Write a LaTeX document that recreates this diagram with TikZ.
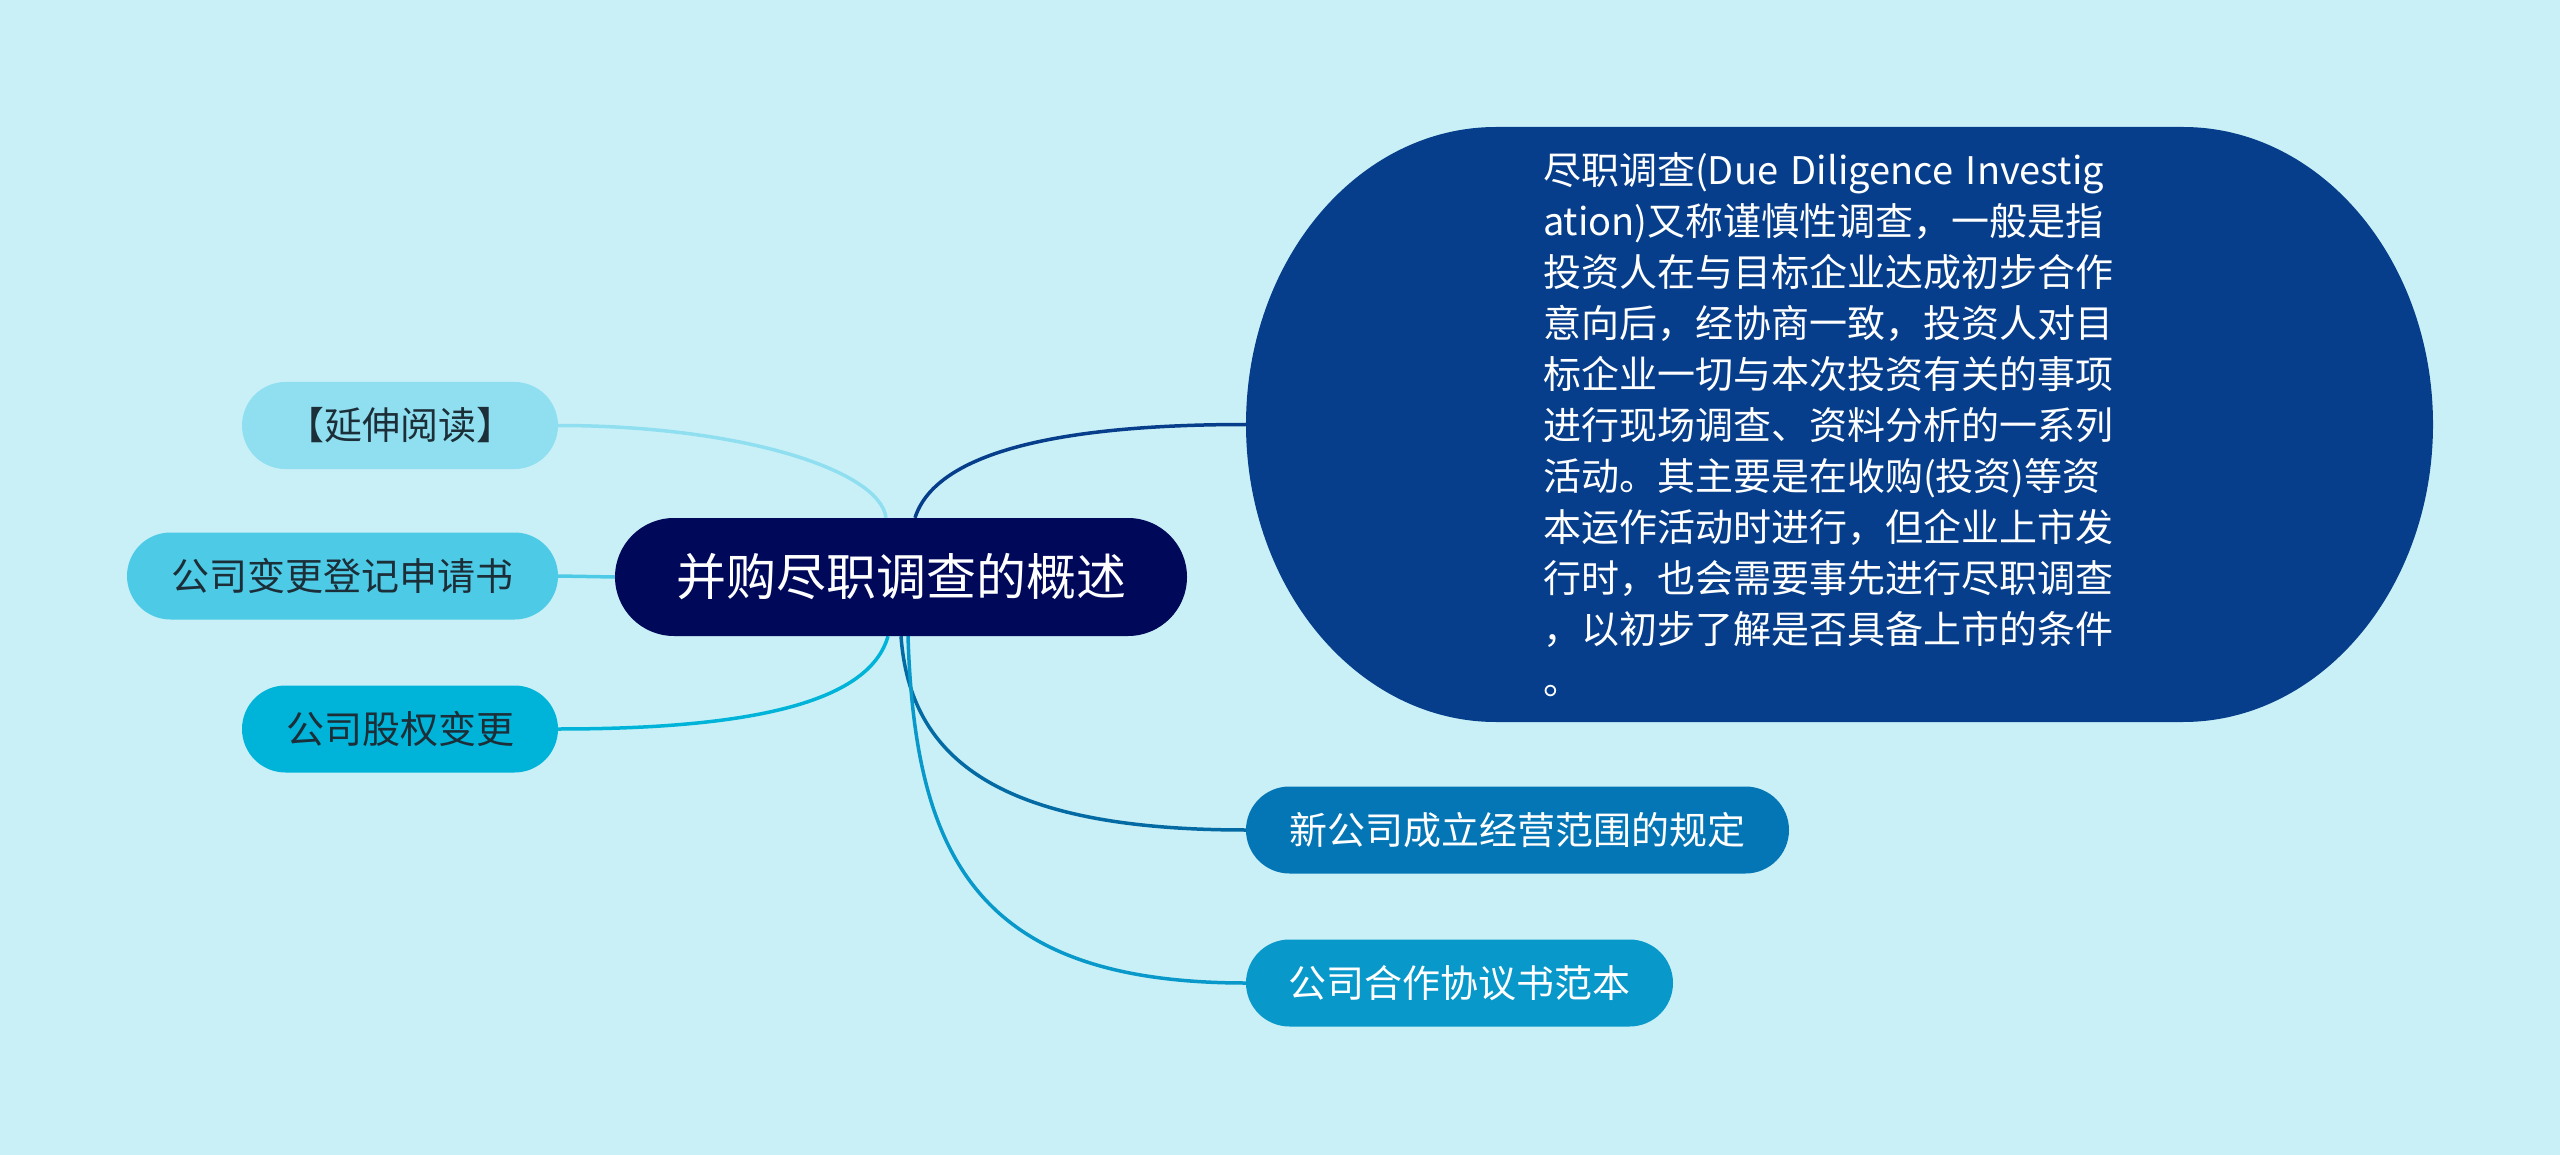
\documentclass[tikz,border=0pt]{standalone}
\usepackage{fontspec}
\setmainfont{Noto Sans CJK SC}
\usetikzlibrary{calc,backgrounds}
\definecolor{bgc}{HTML}{C9F0F7}
\definecolor{cyanA}{HTML}{8FDFF0}
\definecolor{cyanB}{HTML}{4DCAE6}
\definecolor{cyanC}{HTML}{00B3D8}
\definecolor{navy}{HTML}{00085A}
\definecolor{bigc}{HTML}{063E8B}
\definecolor{blueA}{HTML}{0476B5}
\definecolor{blueB}{HTML}{0898C9}
\definecolor{darktext}{HTML}{1C2E38}
\begin{document}
\begin{tikzpicture}[x=1pt,y=-1pt,
  pill/.style={rounded corners=43.5pt, minimum height=87pt, inner sep=0pt, font=\fontsize{38pt}{46pt}\selectfont},
  link/.style={line width=3.5pt}]
\useasboundingbox (0,0) rectangle (2560,1155);
% big node shape
\fill[bigc] (1496,127) -- (2183,127)
  arc[start angle=-90, end angle=90, x radius=250, y radius=297.5]
  -- (1496,722)
  arc[start angle=90, end angle=270, x radius=250, y radius=297.5] -- cycle;
\node[minimum width=1187pt, minimum height=595pt, inner sep=0pt, text width=593pt, align=left,
  text=white, font=\fontsize{38pt}{51pt}\selectfont] (big) at (1839.5,424.5)
  {尽职调查(Due Diligence Investig\\
ation)又称谨慎性调查，一般是指\\
投资人在与目标企业达成初步合作\\
意向后，经协商一致，投资人对目\\
标企业一切与本次投资有关的事项\\
进行现场调查、资料分析的一系列\\
活动。其主要是在收购(投资)等资\\
本运作活动时进行，但企业上市发\\
行时，也会需要事先进行尽职调查\\
，以初步了解是否具备上市的条件\\
。};
% center
\node[rounded corners=59pt, fill=navy, minimum width=572pt, minimum height=118pt, inner sep=0pt,
  text=white, font=\fontsize{50pt}{60pt}\selectfont] (center) at (901,577) {并购尽职调查的概述};
% left nodes
\node[pill, fill=cyanA, minimum width=316pt, text=darktext] (yanshen) at (400,425.5) {【延伸阅读】};
\node[pill, fill=cyanB, minimum width=431pt, text=darktext] (dengji) at (342.5,576) {公司变更登记申请书};
\node[pill, fill=cyanC, minimum width=316pt, text=darktext] (guquan) at (400,729) {公司股权变更};
% right nodes
\node[pill, fill=blueA, minimum width=543pt, text=white] (fanwei) at (1517.5,830) {新公司成立经营范围的规定};
\node[pill, fill=blueB, minimum width=427pt, text=white] (hezuo) at (1459.5,983) {公司合作协议书范本};
% connectors
\begin{scope}[on background layer]
\fill[bgc] (0,0) rectangle (2560,1155);
\coordinate (cUL) at ($(center.north)+(-15,0)$);
\coordinate (cUR) at ($(center.north)+(14,0)$);
\coordinate (cLL) at ($(center.south)+(-13,0)$);
\coordinate (cLR1) at ($(center.south)+(0,0)$);
\coordinate (cLR2) at ($(center.south)+(7,0)$);
\draw[link, cyanA] (yanshen.east) .. controls (740,425.5) and (880,470) .. (cUL);
\draw[link, cyanB] (dengji.east) -- (center.west);
\draw[link, cyanC] (guquan.east) .. controls (760,729) and (870,700) .. (cLL);
\draw[link, bigc] (cUR) .. controls (935,455) and (1050,424.5) .. (big.west);
\draw[link, blueA!90!black] (cLR1) .. controls (910,760) and (1000,830) .. (fanwei.west);
\draw[link, blueB] (cLR2) .. controls (915,860) and (980,983) .. (hezuo.west);
\end{scope}
\end{tikzpicture}
\end{document}
